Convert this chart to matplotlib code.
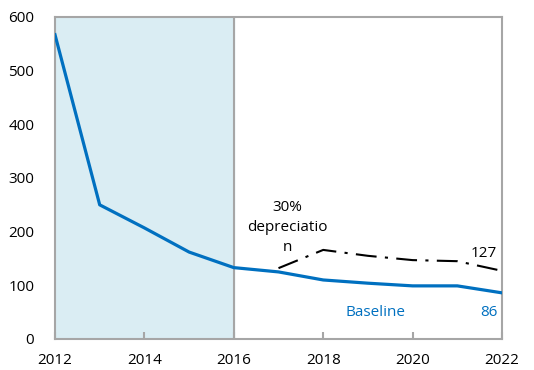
import numpy as np
import matplotlib
matplotlib.use("Agg")
import matplotlib.pyplot as plt

plt.rcParams['font.family'] = ['Open Sans', 'DejaVu Sans']

years = [2012, 2013, 2014, 2015, 2016, 2017, 2018, 2019, 2020, 2021, 2022]
baseline = [567, 250, 207, 162, 133, 125, 110, 104, 99, 99, 86]
dep_years = [2017, 2018, 2019, 2020, 2021, 2022]
depreciation = [132, 166, 155, 147, 145, 127]

grey = '#A6A6A6'
blue = '#0070C0'

fig = plt.figure(figsize=(5.34, 3.70), dpi=100)
ax = fig.add_axes([55/534, 1 - 339/370, (502-55)/534, (339-17)/370])

# shaded history period and its right edge
ax.axvspan(2012, 2016, color='#DAEDF3', zorder=0)
ax.axvline(2016, color=grey, lw=1.5, zorder=1)

ax.plot(years, baseline, color=blue, lw=2.3, zorder=3)
ax.plot(dep_years, depreciation, color='black', lw=1.5, dashes=[10, 4, 1.5, 4], zorder=3)

ax.text(2017.2, 207, '30%\ndepreciatio\nn', ha='center', va='center', fontsize=11, linespacing=1.45)
ax.text(2021.6, 160, str(depreciation[-1]), ha='center', va='center', fontsize=11)
ax.text(2021.7, 50, str(baseline[-1]), ha='center', va='center', fontsize=11, color=blue)
ax.text(2019.18, 50, 'Baseline', ha='center', va='center', fontsize=11, color=blue)

ax.set_xlim(2012, 2022)
ax.set_ylim(0, 600)
ax.set_xticks(range(2012, 2023, 2))
ax.set_yticks(range(0, 601, 100))
for s in ax.spines.values():
    s.set_color(grey)
    s.set_linewidth(1.5)
ax.tick_params(axis='x', direction='in', length=5, color=grey, width=1.5, pad=10, labelsize=11)
ax.tick_params(axis='y', length=0, pad=15, labelsize=11)

fig.savefig('out.png', dpi=100)
